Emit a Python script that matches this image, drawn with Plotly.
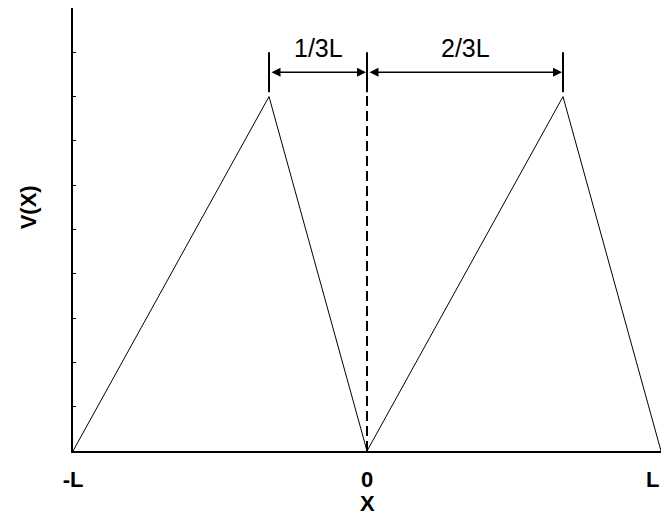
import plotly.graph_objects as go

# potential profile: x in units of L
x_pts = [-1, -1/3, 0, 2/3, 1]
v_pts = [0, 0.8, 0, 0.8, 0]

bar_x = [-1/3, 0, 2/3]
bar_lo = 0.81
bar_hi = 0.9
arrow_y = 0.855
label_y = 0.91
seg_labels = ["1/3L", "2/3L"]

tick_vals = [-1, 0, 1]
tick_text = ["-L", "0", "L"]

FONT = "Liberation Sans, Arial"

fig = go.Figure()

fig.add_trace(go.Scatter(x=x_pts, y=v_pts, mode="lines",
                         line=dict(color="black", width=1), showlegend=False))

# dashed line at x=0
fig.add_trace(go.Scatter(x=[0, 0], y=[0, bar_lo], mode="lines",
                         line=dict(color="black", width=2, dash="10px,5px"), showlegend=False))

# little vertical markers at the top
for bx in bar_x:
    fig.add_trace(go.Scatter(x=[bx, bx], y=[bar_lo, bar_hi], mode="lines",
                             line=dict(color="black", width=2), showlegend=False))

# double-headed dimension arrows
for i in range(2):
    x0, x1 = bar_x[i], bar_x[i + 1]
    fig.add_annotation(x=x1, y=arrow_y, ax=x0, ay=arrow_y, xref="x", yref="y",
                       axref="x", ayref="y", text="", showarrow=True,
                       arrowhead=2, startarrowhead=2, arrowside="end+start",
                       arrowsize=1.2, startarrowsize=1.2, arrowwidth=1.5,
                       arrowcolor="black", standoff=1, startstandoff=1)
    fig.add_annotation(x=(x0 + x1) / 2, y=label_y, text=seg_labels[i], showarrow=False,
                       font=dict(family=FONT, size=25, color="black"),
                       yanchor="middle")

# the last tick label sits at the right edge, so it is drawn right-anchored
fig.add_annotation(text="<b>%s</b>" % tick_text[-1], x=tick_vals[-1], xref="x",
                   y=0, yref="paper", yshift=-28, xanchor="right", yanchor="middle",
                   showarrow=False, font=dict(family=FONT, size=22, color="black"))

# axis titles
fig.add_annotation(text="<b>X</b>", x=0, xref="x", y=0, yref="paper", yshift=-52,
                   yanchor="middle", showarrow=False,
                   font=dict(family=FONT, size=22, color="black"))
fig.add_annotation(text="<b>V(X)</b>", x=0, xref="paper", xshift=-45, y=0.55, yref="paper",
                   textangle=-90, xanchor="center", yanchor="middle", showarrow=False,
                   font=dict(family=FONT, size=22, color="black"))

fig.update_xaxes(range=[-1, 1], showline=True, linecolor="black", linewidth=2,
                 showgrid=False, zeroline=False, tickvals=tick_vals[:-1],
                 ticktext=["<b>%s</b>" % t for t in tick_text[:-1]], ticks="",
                 ticklabelstandoff=8,
                 tickfont=dict(family=FONT, size=22, color="black"))
fig.update_yaxes(range=[0, 1], showline=True, linecolor="black", linewidth=2,
                 showgrid=False, zeroline=False, dtick=0.1, ticks="inside", ticklen=3,
                 tickcolor="black", tickwidth=1, showticklabels=False)

# page body adds an 8px offset, so the figure is sized to fit inside the window
fig.update_layout(width=654, height=511, margin=dict(l=65, r=1, t=0, b=68),
                  plot_bgcolor="white", paper_bgcolor="white")

fig.write_html("out.html")
